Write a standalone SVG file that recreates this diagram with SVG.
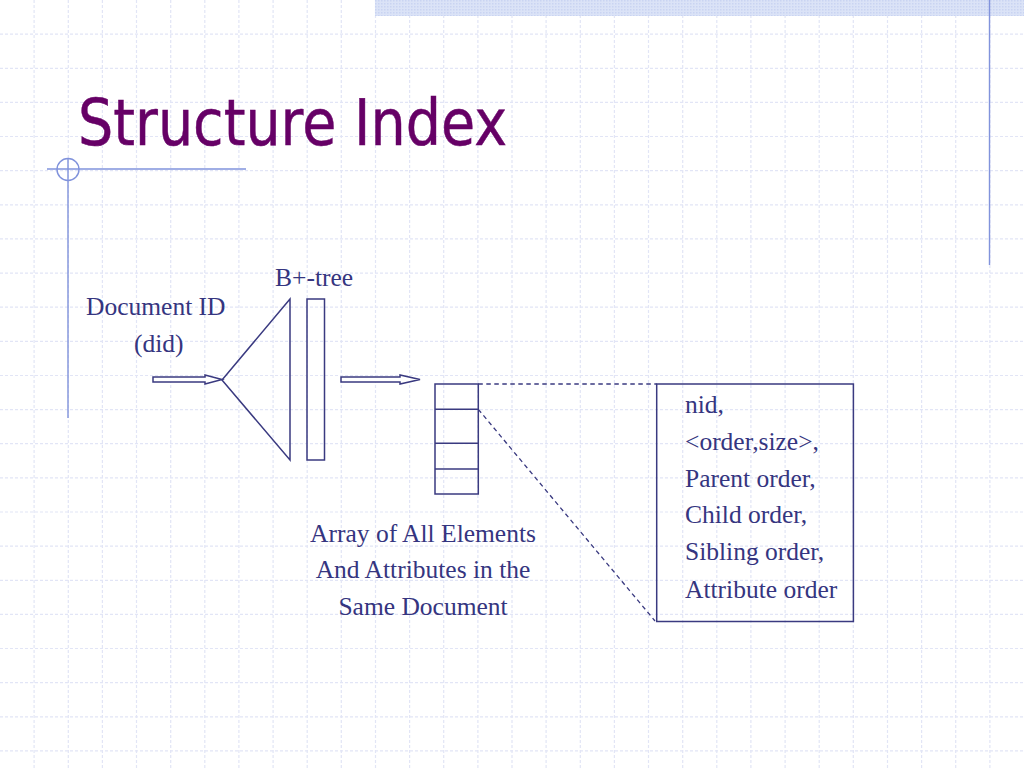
<svg xmlns="http://www.w3.org/2000/svg" width="1024" height="768" viewBox="0 0 1024 768">
<defs>
<style>
.grid{stroke:#e2e5f6;stroke-width:1.2;stroke-dasharray:3 2;fill:none}
.deco{stroke:#8193dc;stroke-width:1.4;fill:none}
.ln{stroke:#3a3a80;stroke-width:1.5;fill:none}
.arrow{stroke:#3a3a80;stroke-width:1.5;fill:#ffffff}
.dash{stroke:#3a3a80;stroke-width:1.3;stroke-dasharray:4.5 3.5;fill:none}
.t{font-family:"Liberation Serif","Times New Roman",serif;font-size:25.5px;fill:#353580}
.title{font-family:"DejaVu Sans","Liberation Sans",sans-serif;font-size:64px;fill:#660066;stroke:#660066;stroke-width:0.5}
</style>
<pattern id="dots" width="3" height="3" patternUnits="userSpaceOnUse">
<rect width="3" height="3" fill="#dbe3f7"/>
<rect width="1.5" height="1.5" fill="#c9d4f2"/>
</pattern>
</defs>
<rect width="1024" height="768" fill="#ffffff"/>
<g id="grid">
<path class="grid" d="M34.1,0V768M68.3,0V768M102.4,0V768M136.5,0V768M170.7,0V768M204.8,0V768M238.9,0V768M273.1,0V768M307.2,0V768M341.3,0V768M375.5,0V768M409.6,0V768M443.7,0V768M477.9,0V768M512,0V768M546.1,0V768M580.3,0V768M614.4,0V768M648.5,0V768M682.7,0V768M716.8,0V768M750.9,0V768M785.1,0V768M819.2,0V768M853.3,0V768M887.5,0V768M921.6,0V768M955.7,0V768M989.9,0V768"/>
<path class="grid" d="M0,34.1H1024M0,68.3H1024M0,102.4H1024M0,136.5H1024M0,170.7H1024M0,204.8H1024M0,238.9H1024M0,273.1H1024M0,307.2H1024M0,341.3H1024M0,375.5H1024M0,409.6H1024M0,443.7H1024M0,477.9H1024M0,512H1024M0,546.1H1024M0,580.3H1024M0,614.4H1024M0,648.5H1024M0,682.7H1024M0,716.8H1024M0,750.9H1024"/>
</g>
<g id="decoration">
<rect x="375" y="0" width="649" height="16" fill="url(#dots)"/>
<line class="deco" x1="989.5" y1="0" x2="989.5" y2="265"/>
<line class="deco" x1="47" y1="169" x2="246" y2="169"/>
<line class="deco" x1="68" y1="158" x2="68" y2="418"/>
<circle class="deco" cx="68" cy="169.5" r="11"/>
</g>
<g id="title">
<text class="title" x="78" y="145" textLength="429" lengthAdjust="spacingAndGlyphs">Structure Index</text>
</g>
<g id="did-label">
<text class="t" x="86" y="315">Document ID</text>
<text class="t" x="134" y="352">(did)</text>
</g>
<g id="btree">
<text class="t" x="275" y="285.5">B+-tree</text>
<polygon class="ln" points="290,299 222,380 290,460"/>
<rect class="ln" x="307" y="299" width="17.5" height="161"/>
</g>
<g id="array">
<rect class="ln" x="435" y="384" width="43.3" height="110"/>
<line class="ln" x1="435" y1="409.3" x2="478.3" y2="409.3"/>
<line class="ln" x1="435" y1="443.3" x2="478.3" y2="443.3"/>
<line class="ln" x1="435" y1="469" x2="478.3" y2="469"/>
<text class="t" x="423" y="541.5" text-anchor="middle">Array of All Elements</text>
<text class="t" x="423" y="578.3" text-anchor="middle">And Attributes in the</text>
<text class="t" x="423" y="615" text-anchor="middle">Same Document</text>
</g>
<g id="record">
<rect class="ln" x="656.7" y="384" width="196.7" height="237.5"/>
<text class="t" x="685" y="413.3">nid,</text>
<text class="t" x="685" y="450">&lt;order,size&gt;,</text>
<text class="t" x="685" y="486.7">Parent order,</text>
<text class="t" x="685" y="523.3">Child order,</text>
<text class="t" x="685" y="560">Sibling order,</text>
<text class="t" x="685" y="597.5">Attribute order</text>
</g>
<g id="connectors">
<path class="arrow" d="M153,377H205V375L222,379.5L205,384V382H153Z"/>
<path class="arrow" d="M341,377H400V375L420,379.5L400,384V382H341Z"/>
<line class="dash" x1="478.3" y1="384" x2="656.7" y2="384"/>
<line class="dash" x1="478.3" y1="409.3" x2="655" y2="621"/>
</g>
</svg>
